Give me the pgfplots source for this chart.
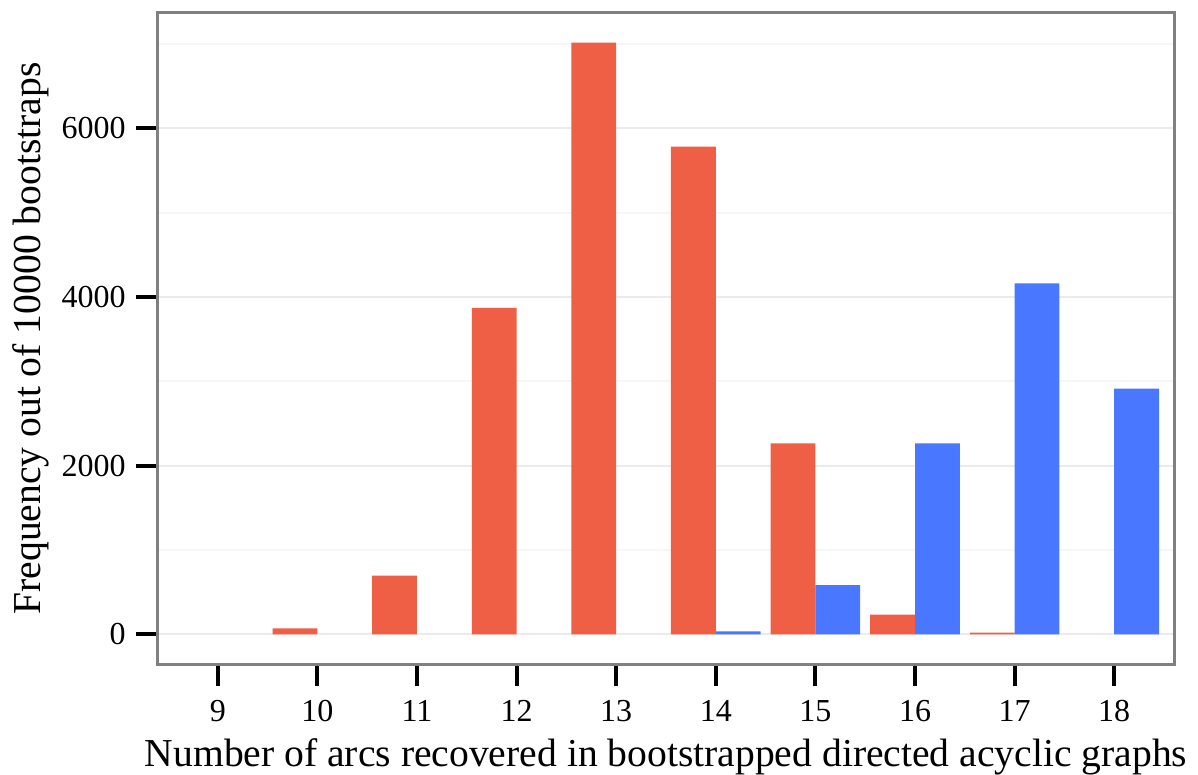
\documentclass[border=0pt]{standalone}
\usepackage{pgfplots}
\pgfplotsset{compat=1.18}
\usepackage{fontspec}
\setmainfont{Liberation Serif}
\definecolor{redbar}{HTML}{EE5F45}
\definecolor{bluebar}{HTML}{4977FF}
\definecolor{framegray}{HTML}{808080}
\definecolor{majgrid}{HTML}{EBEBEB}
\definecolor{mingrid}{HTML}{F6F6F6}
\begin{document}
\begin{tikzpicture}
\begin{axis}[
  scale only axis,
  width=508pt, height=325.5pt,
  xmin=8.4, xmax=18.6,
  ymin=-351, ymax=7368,
  xtick={9,10,11,12,13,14,15,16,17,18},
  ytick={0,2000,4000,6000},
  minor ytick={1000,3000,5000,7000},
  ymajorgrids, yminorgrids,
  major grid style={draw=majgrid, line width=1pt},
  minor grid style={draw=mingrid, line width=1pt},
  axis line style={draw=framegray, line width=1.5pt},
  tick align=outside,
  major tick length=11pt,
  minor tick length=0pt,
  tick style={draw=black, line width=2pt},
  xtick pos=bottom, ytick pos=left,
  scaled y ticks=false,
  /pgf/number format/assume math mode=true,
  /pgf/number format/1000 sep={},
  ticklabel style={font=\fontsize{16}{19}\selectfont},
  xticklabel style={anchor=base, yshift=-17.75pt},
  yticklabel style={anchor=east, inner sep=0pt, xshift=-5pt},
  xlabel={Number of arcs recovered in bootstrapped directed acyclic graphs},
  ylabel={Frequency out of 10000 bootstraps},
  label style={font=\fontsize{19.8}{23}\selectfont},
  xlabel style={at={(axis description cs:0.5,-0.157)}, anchor=base, inner sep=0pt},
  ylabel style={at={(axis description cs:-0.116,0.5)}, anchor=base, inner sep=0pt},
]
\addplot[ybar, bar width=0.45, bar shift=-0.225, fill=redbar, draw=none]
  coordinates {(10,71) (11,697) (12,3871) (13,7017) (14,5785) (15,2265) (16,236) (17,20)};
\addplot[ybar, bar width=0.45, bar shift=0.225, fill=bluebar, draw=none]
  coordinates {(14,35) (15,583) (16,2265) (17,4162) (18,2914)};
\end{axis}
\pgfresetboundingbox
\path ([shift={(-79pt,-55pt)}]current axis.south west) rectangle ([shift={(12pt,6.5pt)}]current axis.north east);
\end{tikzpicture}
\end{document}
